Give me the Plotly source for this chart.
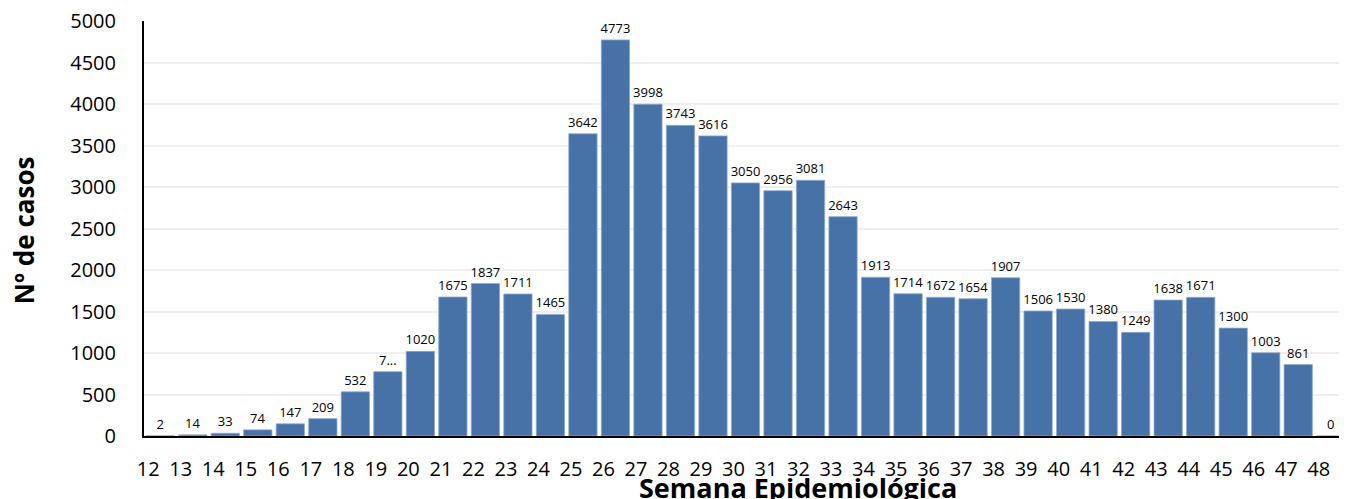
import plotly.graph_objects as go

weeks = list(range(12, 49))
cases = [2, 14, 33, 74, 147, 209, 532, 775, 1020, 1675, 1837, 1711, 1465,
         3642, 4773, 3998, 3743, 3616, 3050, 2956, 3081, 2643, 1913, 1714,
         1672, 1654, 1907, 1506, 1530, 1380, 1249, 1638, 1671, 1300, 1003,
         861, 0]
labels = [str(v) for v in cases]
labels[weeks.index(19)] = "7..."
y_ticks = [0, 500, 1000, 1500, 2000, 2500, 3000, 3500, 4000, 4500, 5000]
x_title = "Semana Epidemiológica"
y_title = "Nº de casos"

FONT = "Open Sans"

fig = go.Figure(go.Bar(
    x=weeks, y=cases, text=labels, textposition="outside",
    textfont=dict(family=FONT, size=13, color="#000000"),
    constraintext="none", cliponaxis=False,
    marker=dict(color="#4672A8", line=dict(color="#8FA9CF", width=0.8)),
))

# page body adds an 8px margin, so the figure is sized to fit the window
fig.update_layout(
    width=1339, height=491,
    margin=dict(l=136, r=0, t=13, b=63),
    paper_bgcolor="white", plot_bgcolor="white",
    bargap=0.13, showlegend=False,
    font=dict(family=FONT, color="#000000"),
    annotations=[
        dict(text="<b>" + x_title + "</b>", xref="paper", yref="paper",
             x=0.5437, y=0, xanchor="center", yanchor="top", yshift=-31,
             showarrow=False, font=dict(family=FONT, size=27)),
        dict(text="<b>" + y_title + "</b>", xref="paper", yref="paper",
             x=0, y=0.496, xanchor="center", yanchor="middle", xshift=-120,
             textangle=-90, showarrow=False,
             font=dict(family=FONT, size=26)),
    ],
)
fig.update_xaxes(
    range=[11.5, 48.5], tickmode="array", tickvals=weeks,
    ticktext=[str(w) for w in weeks], automargin=False,
    tickfont=dict(family=FONT, size=20), ticks="", ticklabelshift=-12,
    ticklabelstandoff=14,
    showline=True, linecolor="#000000", linewidth=2, showgrid=False,
    zeroline=False,
)
fig.update_yaxes(
    range=[0, 5000.5], tickmode="array", tickvals=y_ticks, automargin=False,
    tickfont=dict(family=FONT, size=20), ticks="", ticklabelstandoff=22,
    ticklabeloverflow="allow",
    showline=True, linecolor="#000000", linewidth=2,
    showgrid=True, gridcolor="#EFEFEF", gridwidth=1.5, zeroline=False,
)

fig.write_html("out.html")
